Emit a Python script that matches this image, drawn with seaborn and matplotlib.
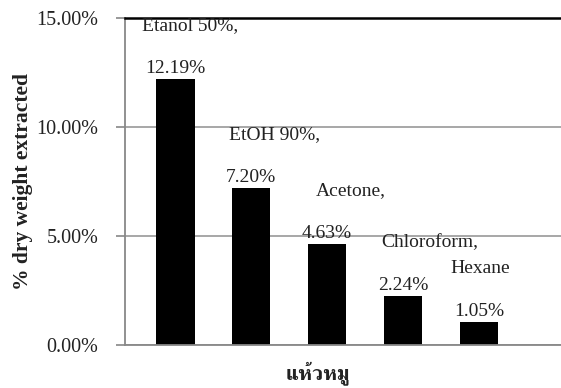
import matplotlib

matplotlib.use("Agg")
import matplotlib.pyplot as plt
import pandas as pd
import seaborn as sns
from matplotlib.ticker import FixedLocator, FuncFormatter

solvents = ["Etanol 50%,", "EtOH 90%,", "Acetone,", "Chloroform,", "Hexane"]
extracted_pct = [12.19, 7.20, 4.63, 2.24, 1.05]
y_ticks = [0, 5, 10, 15]
x_title = "แห้วหมู"
y_title = "% dry weight extracted"

# Excel left the solvent names a bit off-centre, shift in pixels
name_dx = [15, 23, 24, 27, 1]

sns.set_theme(style="white")
plt.rcParams["font.family"] = ["Liberation Serif", "FreeSerif"]

df = pd.DataFrame({"solvent": solvents, "pct": extracted_pct})

fig = plt.figure(figsize=(5.61, 3.88), dpi=100)
ax = fig.add_axes([125 / 561, 43 / 388, 436 / 561, 327 / 388])
sns.barplot(
    data=df,
    x="solvent",
    y="pct",
    color="black",
    saturation=1,
    width=0.51,
    edgecolor="none",
    errorbar=None,
    ax=ax,
)

ax.set_xlim(-0.66, 5.08)
ax.set_ylim(0, 15)
ax.yaxis.set_major_locator(FixedLocator(y_ticks))
ax.yaxis.set_major_formatter(FuncFormatter(lambda v, _: f"{v:.2f}%"))
ax.set_xticks([])

ax.grid(axis="y", color="#a0a0a0", linewidth=1.3)
ax.set_axisbelow(True)
for side in ["left", "bottom"]:
    ax.spines[side].set_color("#888888")
    ax.spines[side].set_linewidth(1.3)
ax.spines["right"].set_visible(False)
ax.spines["top"].set_color("black")
ax.spines["top"].set_linewidth(1.8)

ax.tick_params(
    axis="y", left=True, direction="out", length=6.5, width=1.2,
    color="#888888", labelsize=14.5, labelcolor="#222222", pad=12.5,
)

for i, (name, v, dx) in enumerate(zip(solvents, extracted_pct, name_dx)):
    ax.annotate(
        f"{v:.2f}%", xy=(i, v), xytext=(0, 1.5), textcoords="offset points",
        ha="center", va="bottom", fontsize=14, color="#222222",
    )
    ax.annotate(
        name, xy=(i, v), xytext=(dx * 0.72, 1.5 + 43 * 0.72),
        textcoords="offset points", ha="center", va="bottom",
        fontsize=14, color="#222222",
    )

ax.set_xlabel(
    x_title, fontsize=15, fontweight="bold", color="#222222",
    family=["FreeSerif", "Noto Serif Thai"],
)
ax.xaxis.set_label_coords(0.443, -0.05)
ax.set_ylabel(y_title, fontsize=15.5, fontweight="bold", color="#222222")
ax.yaxis.set_label_coords(-0.21, 0.5)

fig.savefig("out.png", dpi=100)
plt.close(fig)
